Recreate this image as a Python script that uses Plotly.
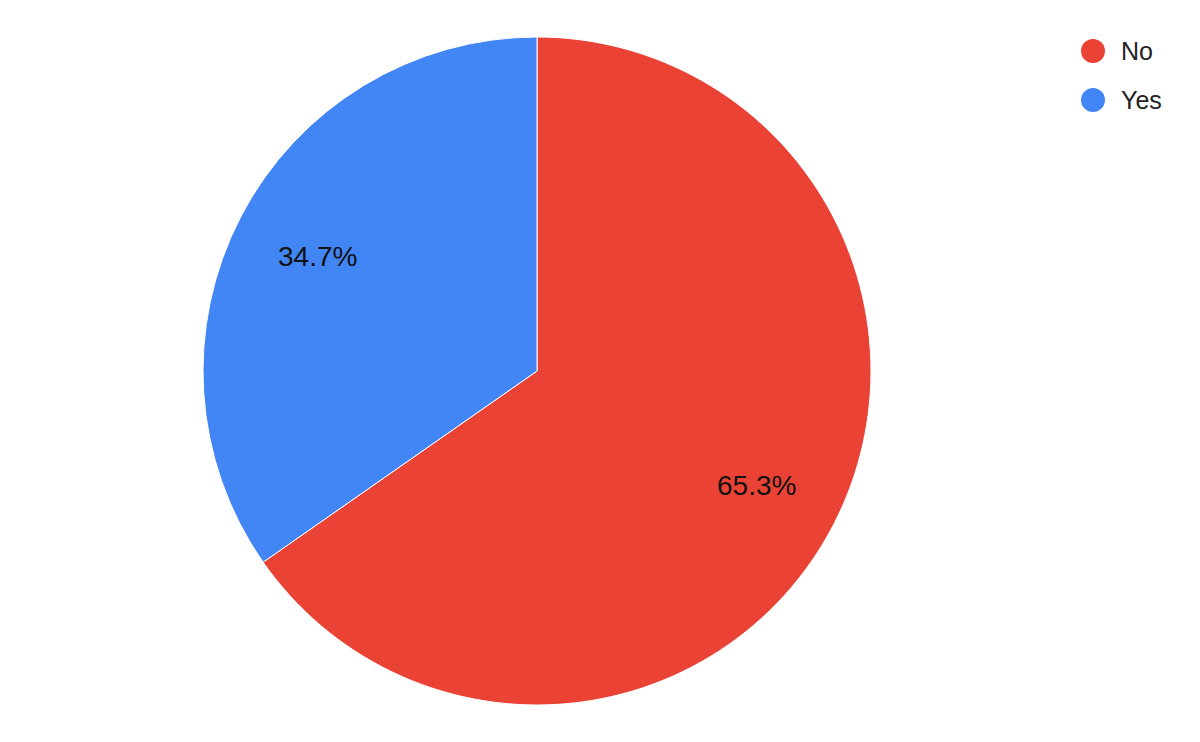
import math
import plotly.graph_objects as go

labels = ["No", "Yes"]
values = [65.3, 34.7]
colors = ["#EA4335", "#4285F4"]

W, H = 1200, 742
OFF = 8  # page body margin offset
cx, cy, R = 537 - OFF, 371 - OFF, 334
FONT = "Liberation Sans, Arial, sans-serif"

fig = go.Figure()
fig.add_trace(go.Pie(
    labels=labels,
    values=values,
    sort=False,
    direction="clockwise",
    rotation=0,
    marker=dict(colors=colors, line=dict(color="white", width=1)),
    textinfo="none",
    domain=dict(x=[(cx - R) / W, (cx + R) / W], y=[(H - cy - R) / H, (H - cy + R) / H]),
    showlegend=False,
    hoverinfo="label+percent",
))

# Slice labels along each slice's bisector at ~0.74 of radius
total = sum(values)
cum = 0.0
for lab, v in zip(labels, values):
    mid = (cum + v / 2) / total * 2 * math.pi  # clockwise from top
    cum += v
    px = cx + 0.74 * R * math.sin(mid)
    py = cy - 0.74 * R * math.cos(mid)
    fig.add_annotation(x=px / W, y=(H - py) / H, xref="paper", yref="paper",
                       text=f"{v / total * 100:.1f}%", showarrow=False,
                       xanchor="center", yanchor="middle",
                       font=dict(family=FONT, size=28, color="#111111"))

# Legend drawn manually with circle markers
leg_y = [51 - OFF, 100 - OFF]
lx = 1093 - OFF
for lab, col, y in zip(labels, colors, leg_y):
    r = 12
    fig.add_shape(type="circle", xref="paper", yref="paper",
                  x0=(lx - r) / W, x1=(lx + r) / W,
                  y0=(H - y - r) / H, y1=(H - y + r) / H,
                  fillcolor=col, line=dict(width=0))
    fig.add_annotation(x=(lx + 26) / W, y=(H - y) / H, xref="paper", yref="paper",
                       text=lab, showarrow=False, xanchor="left", yanchor="middle",
                       font=dict(family=FONT, size=25, color="#222222"))

fig.update_layout(
    width=W, height=H,
    margin=dict(l=0, r=0, t=0, b=0),
    paper_bgcolor="white", plot_bgcolor="white",
)
fig.write_html("out.html")
